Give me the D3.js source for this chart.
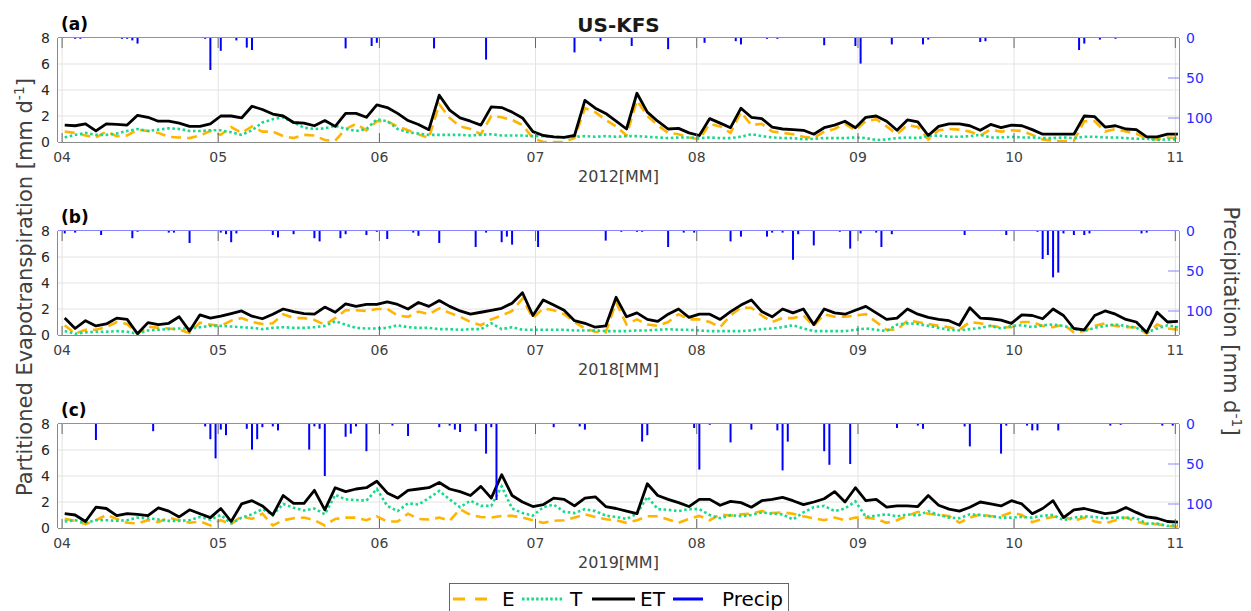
<!DOCTYPE html>
<html lang="en">
  <head>
    <meta charset="utf-8">
    <script src="https://d3js.org/d3.v7.min.js"></script>
    <style>
      body { margin: 0; background: #fff; }
      text { font-family: "DejaVu Sans", sans-serif; }
    </style>
  </head>
  <body>
    <svg width="1251" height="611"></svg>
    <script>
      // sample days (offset from 1 April), every second day
      var sampleDays = d3.range(0, 215, 2);

      // (a) 2012
      var etA = [1.3,1.25,1.4,0.85,1.4,1.35,1.3,2.05,1.9,1.6,
                 1.6,1.45,1.2,1.2,1.4,2.0,2.0,1.85,2.75,2.5,
                 2.15,2.0,1.5,1.45,1.25,1.65,1.2,2.2,2.2,1.9,
                 2.85,2.65,2.2,1.65,1.35,0.95,3.6,2.45,1.85,1.6,
                 1.3,2.7,2.65,2.3,1.85,0.8,0.5,0.4,0.35,0.5,
                 3.2,2.6,2.2,1.6,1.0,3.75,2.3,1.6,1.0,1.05,
                 0.7,0.5,1.8,1.45,1.1,2.6,1.9,1.8,1.15,1.0,
                 0.95,0.9,0.6,1.1,1.3,1.6,1.1,1.9,2.0,1.6,
                 0.9,1.7,1.55,0.5,1.2,1.4,1.4,1.25,0.9,1.35,
                 1.1,1.3,1.25,0.95,0.6,0.6,0.6,0.6,2.0,1.95,
                 1.15,1.25,1.0,0.95,0.4,0.4,0.6,0.6];
      var eA = [0.8,0.7,0.5,0.35,0.8,0.45,0.5,0.95,0.85,0.7,
                0.4,0.35,0.3,0.5,0.85,0.55,1.15,0.7,1.2,0.8,
                0.8,0.45,0.3,0.55,0.5,0.15,0.1,1.0,1.4,0.9,
                1.6,1.6,1.2,0.9,0.6,0.3,2.9,1.85,1.2,1.0,
                0.6,2.0,1.9,1.7,1.3,0.3,0.0,0.0,0.0,0.3,
                2.6,2.3,1.7,1.2,0.5,3.2,2.0,1.3,0.7,0.6,
                0.35,0.2,1.4,1.2,0.7,2.3,1.3,1.4,0.8,0.7,
                0.6,0.4,0.3,0.8,1.0,1.4,0.9,1.6,1.75,1.2,
                0.6,1.3,1.15,0.2,0.9,1.0,0.95,0.8,0.5,0.95,
                0.8,0.9,0.85,0.55,0.2,0.1,0.05,0.1,1.6,1.6,
                0.8,1.0,0.8,0.65,0.25,0.2,0.35,0.3];
      var tA = [0.35,0.55,0.7,0.55,0.55,0.65,0.85,1.0,0.85,0.95,
                1.05,1.0,0.85,0.85,0.9,0.9,0.75,0.55,0.9,1.5,
                1.75,1.9,1.5,1.1,1.0,1.05,1.25,1.0,0.85,1.0,
                1.75,1.6,1.0,0.75,0.65,0.55,0.55,0.55,0.55,0.5,
                0.55,0.6,0.5,0.5,0.5,0.45,0.45,0.4,0.35,0.4,
                0.45,0.4,0.45,0.4,0.45,0.45,0.4,0.35,0.3,0.35,
                0.35,0.3,0.35,0.3,0.3,0.4,0.6,0.45,0.35,0.3,
                0.3,0.2,0.25,0.3,0.3,0.3,0.35,0.3,0.15,0.2,
                0.3,0.35,0.3,0.45,0.5,0.4,0.4,0.45,0.55,0.35,
                0.35,0.4,0.35,0.35,0.3,0.3,0.35,0.3,0.4,0.4,
                0.35,0.35,0.3,0.25,0.25,0.15,0.2,0.2];
      var precipDayA = [2,3,11,12,13,14,27,28,30,33,35,36,54,59,60,71,81,98,103,109,116,123,129,130,135,137,146,152,153,159,165,166,176,177,195,196,199,202];
      var precipA    = [1,1,1,1,3,7,1,40,16,3,12,15,13,10,6,13,27,18,4,10,14,6,4,8,1,1,9,10,32,8,8,2,5,4,15,7,2,1];

      // (b) 2018
      var etB = [1.3,0.5,1.1,0.7,0.85,1.3,1.2,0.1,0.95,0.8,
                 0.9,1.4,0.3,1.55,1.3,1.45,1.65,1.85,1.45,1.25,
                 1.6,2.0,1.8,1.65,1.6,2.15,1.75,2.4,2.2,2.35,
                 2.35,2.55,2.35,2.0,2.5,2.2,2.65,2.2,1.85,1.6,
                 1.75,1.9,2.05,2.45,3.25,1.5,2.7,2.3,1.9,1.1,
                 0.9,0.6,0.7,2.9,1.4,1.7,1.2,1.05,1.6,2.0,
                 1.35,1.6,1.6,1.2,1.8,2.3,2.7,1.8,1.4,2.0,
                 1.7,2.0,0.8,2.0,1.7,1.6,1.9,2.2,1.7,1.2,
                 1.3,2.0,1.6,1.35,1.2,1.1,0.75,2.1,1.3,1.25,
                 1.15,0.9,1.55,1.5,1.25,2.0,1.5,0.5,0.4,1.5,
                 1.85,1.6,1.2,1.0,0.2,1.75,1.0,1.05];
      var eB = [0.75,0.1,0.4,0.4,0.6,1.0,0.85,0.1,0.65,0.55,
                0.5,0.4,0.15,0.95,0.8,0.7,1.1,1.3,1.0,0.85,
                0.9,1.6,1.3,1.3,1.15,0.8,1.3,1.9,1.9,1.85,
                2.0,2.0,1.5,1.4,1.8,1.6,2.05,1.7,1.4,1.0,
                0.75,1.2,1.5,1.85,2.8,1.3,2.05,1.9,1.6,1.0,
                0.5,0.25,0.2,2.5,0.8,1.2,0.8,0.7,1.0,1.6,
                1.2,1.2,1.0,0.6,1.5,2.1,2.1,1.5,1.0,1.3,
                1.3,1.5,0.7,1.6,1.4,1.4,1.5,1.6,1.0,0.4,
                0.4,1.1,1.0,0.85,0.7,0.6,0.4,1.0,0.9,0.7,
                0.6,0.6,1.0,1.0,0.7,0.6,0.8,0.2,0.3,0.7,
                0.9,0.7,0.6,0.6,0.1,0.8,0.5,0.4];
      var tB = [0.3,0.1,0.2,0.25,0.25,0.3,0.25,0.1,0.35,0.4,
                0.45,0.5,0.5,0.6,0.7,0.7,0.65,0.6,0.55,0.45,
                0.55,0.6,0.55,0.55,0.6,0.7,1.05,0.8,0.55,0.5,
                0.5,0.55,0.75,0.6,0.55,0.55,0.45,0.45,0.4,0.45,
                0.45,0.9,0.45,0.6,0.4,0.4,0.4,0.4,0.4,0.35,
                0.35,0.35,0.3,0.3,0.3,0.35,0.35,0.4,0.45,0.4,
                0.4,0.35,0.3,0.3,0.3,0.3,0.35,0.45,0.5,0.6,
                0.75,0.5,0.3,0.3,0.3,0.3,0.4,0.5,0.4,0.3,
                0.8,0.9,0.85,0.7,0.55,0.4,0.35,0.45,0.55,0.7,
                0.5,0.7,0.75,0.6,0.75,0.8,0.7,0.5,0.3,0.55,
                0.7,0.8,0.7,0.55,0.2,0.5,0.75,0.6];
      var precipDayB = [0,2,7,13,14,20,21,24,30,31,32,33,40,41,44,48,49,53,54,58,60,62,67,68,72,79,81,84,85,86,91,104,107,110,111,116,119,121,128,130,135,136,138,140,141,144,149,151,153,156,157,159,173,181,187,188,189,190,191,192,194,196,197,207,208];
      var precipB    = [3,2,5,9,1,2,2,15,2,4,14,3,5,8,4,9,13,9,4,5,1,10,2,6,15,20,2,14,7,17,20,12,1,1,1,20,2,2,13,7,7,2,2,36,4,18,1,22,3,2,20,4,5,5,1,35,30,58,52,3,5,5,3,3,2];

      // (c) 2019
      var etC = [1.1,1.0,0.5,1.6,1.5,0.95,1.1,1.05,0.95,1.55,
                 1.3,0.85,1.4,1.1,0.8,1.5,0.5,1.85,2.1,1.7,
                 1.0,2.5,1.9,1.9,2.9,1.4,3.1,2.8,3.0,3.1,
                 3.6,2.7,2.3,2.9,3.0,3.1,3.5,3.0,2.8,2.5,
                 3.2,2.3,4.1,2.5,2.0,1.65,1.8,2.3,2.2,1.7,
                 2.3,2.4,1.65,1.5,1.3,1.1,3.4,2.5,2.2,1.95,
                 1.65,2.2,2.2,1.75,2.05,1.95,1.6,2.1,2.2,2.35,
                 2.1,1.8,2.0,2.25,2.8,2.0,3.1,2.1,2.2,1.6,
                 1.7,1.7,1.65,2.5,1.75,1.45,1.3,1.6,2.0,1.85,
                 1.7,2.1,1.85,1.1,1.5,2.1,0.8,1.4,1.5,1.3,
                 1.1,1.2,1.58,1.2,0.85,0.75,0.5,0.45];
      var eC = [0.7,0.55,0.3,0.6,1.0,0.7,0.4,0.35,0.6,0.45,
                0.8,0.6,0.4,0.5,0.2,0.6,0.3,0.9,0.7,1.1,
                0.2,0.6,0.75,0.8,0.6,0.2,0.7,0.8,0.8,0.6,
                0.9,0.5,0.5,1.1,0.7,0.65,0.8,0.55,1.45,1.0,
                0.85,0.8,0.93,0.93,0.8,0.6,0.4,0.55,0.6,0.8,
                1.05,0.85,0.67,0.6,0.4,0.6,0.9,0.9,0.65,0.4,
                0.7,0.93,0.6,1.05,0.95,1.05,1.1,1.3,1.15,1.2,
                1.1,0.9,0.75,0.6,0.8,0.6,0.8,0.8,0.7,0.4,
                0.6,0.93,1.25,1.1,1.0,0.93,0.4,0.8,1.05,0.9,
                0.9,1.2,1.0,0.45,0.7,0.85,0.9,0.55,0.8,0.5,
                0.35,0.6,0.8,0.5,0.3,0.3,0.15,0.1];
      var tC = [0.5,0.6,0.4,0.6,0.6,0.55,0.6,0.8,0.75,0.65,
                0.55,0.55,0.6,0.85,0.65,1.0,0.35,0.8,1.05,1.45,
                1.0,1.85,1.55,1.35,1.5,1.05,2.55,2.2,2.15,2.1,
                3.0,1.7,1.3,1.9,1.8,2.3,2.85,2.2,1.6,2.1,
                1.7,1.7,3.2,1.5,1.15,0.95,1.6,1.8,1.25,1.15,
                1.45,1.3,0.95,0.85,0.7,1.1,2.4,1.45,1.4,1.3,
                1.45,1.45,1.0,0.75,1.0,0.9,1.0,1.2,1.1,1.05,
                0.65,1.2,1.6,1.7,1.3,1.5,2.05,0.85,0.95,1.05,
                0.9,1.05,0.95,1.3,1.0,0.8,0.75,1.05,1.0,0.9,
                0.8,0.8,0.85,0.8,0.95,1.0,0.6,0.8,0.9,0.85,
                0.75,0.8,0.8,0.75,0.35,0.35,0.15,0.25];
      var precipDayC = [6,17,27,28,29,30,31,35,36,37,38,40,41,47,48,49,50,54,55,56,58,63,66,72,74,75,76,79,81,82,83,94,99,100,111,112,121,122,124,128,132,137,138,139,146,147,151,160,164,165,173,174,180,181,185,186,187,191,201,203,211,213];
      var precipC    = [20,9,3,19,43,7,14,6,32,19,4,3,8,32,3,6,65,16,12,3,34,2,15,4,2,7,10,9,37,4,95,4,3,7,22,14,5,57,1,23,7,8,58,22,34,51,50,5,2,6,3,28,37,2,2,8,8,8,2,1,2,2];

      var years = [2012, 2018, 2019];
      var panelLabels = ["(a)", "(b)", "(c)"];
      var monthTicks = ["04", "05", "06", "07", "08", "09", "10", "11"];
      var leftTicks = [0, 2, 4, 6, 8];
      var rightTicks = [0, 50, 100];
      var legendNames = ["E", "T", "ET", "Precip"];

      var panels = [
        {et: etA, e: eA, t: tA, pDay: precipDayA, p: precipA},
        {et: etB, e: eB, t: tB, pDay: precipDayB, p: precipB},
        {et: etC, e: eC, t: tC, pDay: precipDayC, p: precipC}
      ];

      var colE = "#ffb400", colT = "#19d98c", colET = "#000000", colP = "#0000ff";

      var svg = d3.select("svg"),
          left = 58, right = 1179, ph = 104,
          tops = [38, 231, 424];

      svg.append("rect").attr("width", 1251).attr("height", 611).attr("fill", "#fff");

      panels.forEach(function(p, k) {
        var yr = years[k], top = tops[k], bottom = top + ph;
        var x = d3.scaleTime()
            .domain([new Date(yr, 2, 31, 5), new Date(yr, 10, 1, 17)])
            .range([left, right]);
        var yL = d3.scaleLinear().domain([0, 8]).range([bottom, top]);
        var yR = d3.scaleLinear().domain([0, 130]).range([top, bottom]);
        var day = function(d) { return new Date(yr, 3, 1 + d, 12); };
        var months = monthTicks.map(function(m) { return new Date(yr, +m - 1, 1); });

        var g = svg.append("g");

        g.append("clipPath").attr("id", "clip" + k)
          .append("rect").attr("x", left).attr("y", top).attr("width", right - left).attr("height", ph);

        // grid
        g.selectAll(".hg").data(leftTicks.slice(1, -1)).enter().append("line")
          .attr("x1", left).attr("x2", right)
          .attr("y1", function(d) { return yL(d); }).attr("y2", function(d) { return yL(d); })
          .attr("stroke", "#e3e3e3");
        g.selectAll(".vg").data(months).enter().append("line")
          .attr("x1", function(d) { return x(d); }).attr("x2", function(d) { return x(d); })
          .attr("y1", top).attr("y2", bottom)
          .attr("stroke", "#e3e3e3");

        // series
        var plot = g.append("g").attr("clip-path", "url(#clip" + k + ")");
        var line = function(vals) {
          return d3.line()
            .x(function(d, i) { return x(day(sampleDays[i])); })
            .y(function(d) { return yL(d); })(vals);
        };
        plot.append("path").attr("d", line(p.e)).attr("fill", "none")
          .attr("stroke", colE).attr("stroke-width", 2.6).attr("stroke-dasharray", "10,6");
        plot.append("path").attr("d", line(p.t)).attr("fill", "none")
          .attr("stroke", colT).attr("stroke-width", 2.6).attr("stroke-dasharray", "2.6,2.6");
        plot.append("path").attr("d", line(p.et)).attr("fill", "none")
          .attr("stroke", colET).attr("stroke-width", 2.8).attr("stroke-linejoin", "round");

        // precipitation bars (right axis, reversed)
        plot.selectAll(".pr").data(p.p).enter().append("line")
          .attr("x1", function(d, i) { return x(day(p.pDay[i])); })
          .attr("x2", function(d, i) { return x(day(p.pDay[i])); })
          .attr("y1", yR(0)).attr("y2", function(d) { return yR(d); })
          .attr("stroke", colP).attr("stroke-width", 2);

        // box
        g.append("line").attr("x1", left).attr("x2", right).attr("y1", bottom + 0.5).attr("y2", bottom + 0.5).attr("stroke", "#8a8a8a");
        g.append("line").attr("x1", left - 0.5).attr("x2", left - 0.5).attr("y1", top).attr("y2", bottom).attr("stroke", "#8a8a8a");
        g.append("line").attr("x1", left).attr("x2", right).attr("y1", top - 0.5).attr("y2", top - 0.5).attr("stroke", "#8585ff");
        g.append("line").attr("x1", right + 0.5).attr("x2", right + 0.5).attr("y1", top).attr("y2", bottom).attr("stroke", "#8585ff");

        // x ticks top and bottom
        months.forEach(function(m) {
          g.append("line").attr("x1", x(m)).attr("x2", x(m)).attr("y1", top).attr("y2", top + 10).attr("stroke", "#666");
          g.append("line").attr("x1", x(m)).attr("x2", x(m)).attr("y1", bottom).attr("y2", bottom - 9).attr("stroke", "#666");
        });
        // right ticks
        rightTicks.slice(1).forEach(function(v) {
          g.append("line").attr("x1", right).attr("x2", right - 11).attr("y1", yR(v)).attr("y2", yR(v)).attr("stroke", "#8585ff");
        });

        // tick labels
        g.selectAll(".xl").data(months).enter().append("text")
          .attr("x", function(d) { return x(d); }).attr("y", bottom + 20)
          .attr("text-anchor", "middle").attr("font-size", 14).attr("fill", "#404040")
          .text(function(d, i) { return monthTicks[i]; });
        g.selectAll(".yl").data(leftTicks).enter().append("text")
          .attr("x", left - 8).attr("y", function(d) { return yL(d); }).attr("dy", "0.36em")
          .attr("text-anchor", "end").attr("font-size", 14).attr("fill", "#262626")
          .text(function(d) { return d; });
        g.selectAll(".yr").data(rightTicks).enter().append("text")
          .attr("x", right + 7).attr("y", function(d) { return yR(d); }).attr("dy", "0.36em")
          .attr("font-size", 14).attr("fill", "#2b2bff")
          .text(function(d) { return d; });

        g.append("text").attr("x", (left + right) / 2).attr("y", bottom + 40)
          .attr("text-anchor", "middle").attr("font-size", 16).attr("fill", "#404040")
          .text(yr + "[MM]");
        g.append("text").attr("x", 61).attr("y", top - 8)
          .attr("font-size", 17).attr("font-weight", "bold").attr("fill", "#000")
          .text(panelLabels[k]);
      });

      // title
      svg.append("text").attr("x", 618.5).attr("y", 32).attr("text-anchor", "middle")
        .attr("font-size", 20).attr("font-weight", "bold").attr("fill", "#1a1a1a").text("US-KFS");

      // y labels
      var yl = svg.append("text").attr("transform", "translate(32,287) rotate(-90)")
        .attr("text-anchor", "middle").attr("font-size", 21).attr("fill", "#404040");
      yl.append("tspan").text("Partitioned Evapotranspiration [mm d");
      yl.append("tspan").attr("font-size", 14).attr("dy", -8).text("-1");
      yl.append("tspan").attr("dy", 8).text("]");

      var yr2 = svg.append("text").attr("transform", "translate(1224,321) rotate(90)")
        .attr("text-anchor", "middle").attr("font-size", 21).attr("fill", "#404040");
      yr2.append("tspan").text("Precipitation [mm d");
      yr2.append("tspan").attr("font-size", 14).attr("dy", -8).text("-1");
      yr2.append("tspan").attr("dy", 8).text("]");

      // legend
      var lg = svg.append("g");
      lg.append("rect").attr("x", 449.5).attr("y", 583.5).attr("width", 339).attr("height", 40)
        .attr("fill", "#fff").attr("stroke", "#666");
      var ly = 599;
      var samples = [
        {x1: 453, x2: 487, c: colE, dash: "12,10", tx: 502},
        {x1: 522, x2: 563, c: colT, dash: "2.5,2.2", tx: 570},
        {x1: 592, x2: 635, c: colET, dash: null, tx: 640},
        {x1: 673, x2: 703, c: colP, dash: null, tx: 722}
      ];
      samples.forEach(function(s, i) {
        lg.append("line").attr("x1", s.x1).attr("x2", s.x2).attr("y1", ly).attr("y2", ly)
          .attr("stroke", s.c).attr("stroke-width", 3).attr("stroke-dasharray", s.dash);
        lg.append("text").attr("x", s.tx).attr("y", ly + 7).attr("font-size", 20).attr("fill", "#000")
          .text(legendNames[i]);
      });
    </script>
  </body>
</html>
